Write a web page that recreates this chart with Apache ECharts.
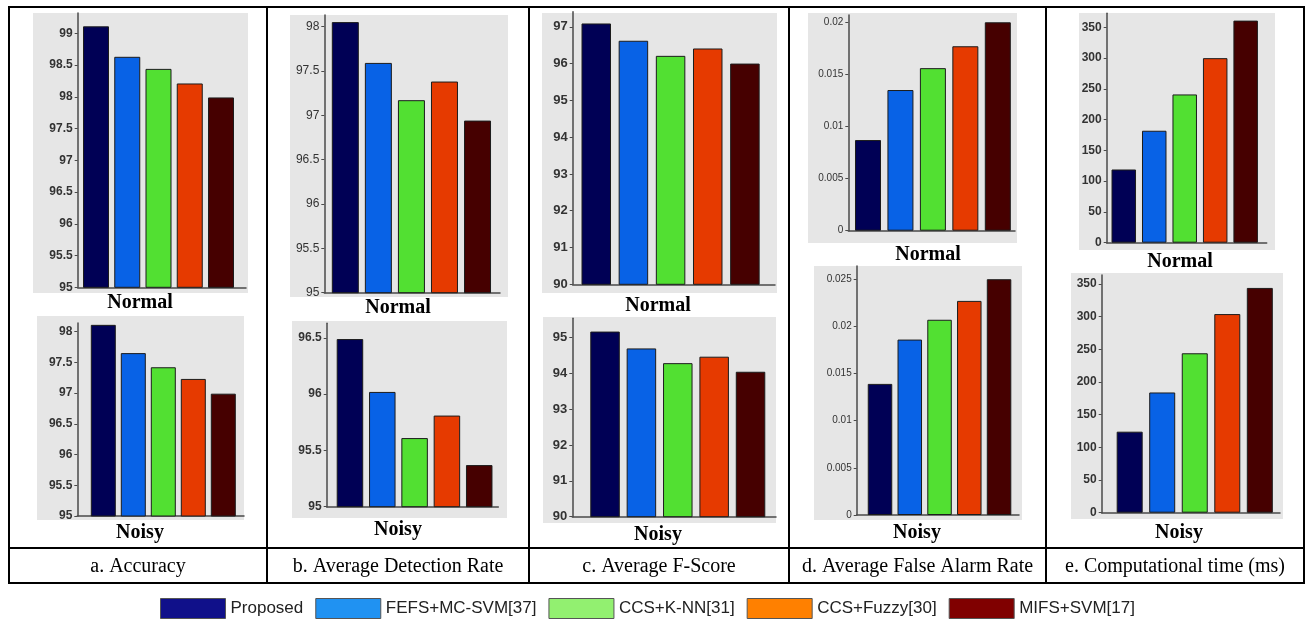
<!DOCTYPE html>
<html><head><meta charset="utf-8">
<script src="https://cdn.jsdelivr.net/npm/echarts@6/dist/echarts.min.js"></script>
<style>html,body{margin:0;padding:0;background:#fff}#c{width:1307px;height:622px}</style>
</head><body><div id="c"></div>
<script>
// ---------- data ----------
const methods = ['Proposed', 'FEFS+MC-SVM[37]', 'CCS+K-NN[31]', 'CCS+Fuzzy[30]', 'MIFS+SVM[17]'];
const captions = ['a. Accuracy', 'b. Average Detection Rate', 'c. Average F-Score', 'd. Average False Alarm Rate', 'e. Computational time (ms)'];
const conditions = ['Normal', 'Noisy'];

const accuracyNormal  = [99.11, 98.63, 98.44, 98.21, 97.99];
const accuracyNoisy   = [98.11, 97.65, 97.42, 97.23, 96.99];
const detectionNormal = [98.05, 97.59, 97.17, 97.38, 96.94];
const detectionNoisy  = [96.49, 96.02, 95.61, 95.81, 95.37];
const fscoreNormal    = [97.09, 96.62, 96.21, 96.41, 96.00];
const fscoreNoisy     = [95.16, 94.69, 94.28, 94.46, 94.04];
const falseAlarmNormal = [0.0087, 0.0135, 0.0156, 0.0177, 0.0200];
const falseAlarmNoisy  = [0.0139, 0.0186, 0.0207, 0.0227, 0.0250];
const timeNormal = [119, 182, 241, 300, 361];
const timeNoisy  = [124, 184, 244, 304, 344];

const ticksAccuracyNormal  = [95, 95.5, 96, 96.5, 97, 97.5, 98, 98.5, 99];
const ticksAccuracyNoisy   = [95, 95.5, 96, 96.5, 97, 97.5, 98];
const ticksDetectionNormal = [95, 95.5, 96, 96.5, 97, 97.5, 98];
const ticksDetectionNoisy  = [95, 95.5, 96, 96.5];
const ticksFscoreNormal    = [90, 91, 92, 93, 94, 95, 96, 97];
const ticksFscoreNoisy     = [90, 91, 92, 93, 94, 95];
const ticksFalseAlarmNormal = [0, 0.005, 0.01, 0.015, 0.02];
const ticksFalseAlarmNoisy  = [0, 0.005, 0.01, 0.015, 0.02, 0.025];
const ticksTimeNormal = [0, 50, 100, 150, 200, 250, 300, 350];
const ticksTimeNoisy  = [0, 50, 100, 150, 200, 250, 300, 350];

// ---------- styles ----------
const barColors = ['#000055', '#0862e6', '#52e032', '#e63a00', '#460000'];
const legendColors = ['#10108a', '#2092f2', '#92f070', '#ff8000', '#800000'];

const panels = [
  {values: accuracyNormal,   ticks: ticksAccuracyNormal,   col: 0, cond: 0},
  {values: accuracyNoisy,    ticks: ticksAccuracyNoisy,    col: 0, cond: 1},
  {values: detectionNormal,  ticks: ticksDetectionNormal,  col: 1, cond: 0},
  {values: detectionNoisy,   ticks: ticksDetectionNoisy,   col: 1, cond: 1},
  {values: fscoreNormal,     ticks: ticksFscoreNormal,     col: 2, cond: 0},
  {values: fscoreNoisy,      ticks: ticksFscoreNoisy,      col: 2, cond: 1},
  {values: falseAlarmNormal, ticks: ticksFalseAlarmNormal, col: 3, cond: 0},
  {values: falseAlarmNoisy,  ticks: ticksFalseAlarmNoisy,  col: 3, cond: 1},
  {values: timeNormal,       ticks: ticksTimeNormal,       col: 4, cond: 0},
  {values: timeNoisy,        ticks: ticksTimeNoisy,        col: 4, cond: 1}
];

// layout: grid box [left, top, right, bottom], x range, y range, bar width, background box, subtitle centre, label font
const layout = [
  {g:[77.7, 13, 246, 287.3],   x:[0.414, 5.8],  y:[95, 99.32],  bw:26,   bg:[33, 13, 248, 293],    sub:[140, 303], fs:12, fw:'bold'},
  {g:[77.3, 323, 244, 516],    x:[0.133, 5.69], y:[95, 98.14],  bw:25,   bg:[37, 316, 244, 520],   sub:[140, 533], fs:12, fw:'bold'},
  {g:[324.3, 15, 500, 292.7],  x:[0.364, 5.68], y:[95, 98.13],  bw:27,   bg:[290, 15, 508, 297],   sub:[398, 308], fs:12, fw:'normal'},
  {g:[326.7, 323.3, 498.3, 506.7], x:[0.28, 5.59], y:[95, 96.63], bw:26.5, bg:[292, 321, 507, 518], sub:[398, 530], fs:12, fw:'bold'},
  {g:[572.7, 11.7, 775, 284.3], x:[0.366, 5.81], y:[90, 97.41], bw:29.5, bg:[542, 13, 777, 293],   sub:[658, 306], fs:13, fw:'bold'},
  {g:[572.3, 318.3, 776, 516.7], x:[0.1, 5.7],   y:[90, 95.53], bw:29.5, bg:[543, 317, 776, 523],  sub:[658, 535], fs:13, fw:'bold'},
  {g:[848.3, 15, 1015, 230.7], x:[0.393, 5.53], y:[0, 0.0207],  bw:26,   bg:[808, 13, 1017, 243],  sub:[928, 255], fs:10, fw:'normal'},
  {g:[856.7, 266, 1019, 515],  x:[0.217, 5.67], y:[0, 0.0264],  bw:24.5, bg:[814, 266, 1022, 520], sub:[917, 533], fs:10, fw:'normal'},
  {g:[1106.7, 13.3, 1266.7, 242.7], x:[0.44, 5.69], y:[0, 372.9], bw:24.5, bg:[1079, 13, 1275, 250], sub:[1180, 262], fs:12, fw:'bold'},
  {g:[1101.7, 275, 1280, 512.7], x:[0.14, 5.62], y:[0, 363.8],  bw:26,   bg:[1071, 273, 1283, 519], sub:[1179, 533], fs:12, fw:'bold'}
];

const table = {left: 9, right: 1304, top: 7, bottom: 583, row: 548, cols: [267, 529, 789, 1046]};

// ---------- build ----------
const grid = [], xAxis = [], yAxis = [], series = [], graphic = [];
const axisColor = '#4a4a4a';
panels.forEach((p, k) => {
  const L = layout[k];
  grid.push({left: L.g[0], top: L.g[1], width: L.g[2] - L.g[0], height: L.g[3] - L.g[1], containLabel: false});
  xAxis.push({type: 'value', gridIndex: k, min: L.x[0], max: L.x[1],
    axisLine: {show: true, onZero: false, lineStyle: {color: axisColor, width: 1.5}},
    axisTick: {show: false}, axisLabel: {show: false}, splitLine: {show: false}});
  yAxis.push({type: 'value', gridIndex: k, min: L.y[0], max: L.y[1],
    axisLine: {show: true, lineStyle: {color: axisColor, width: 1.5}},
    axisTick: {show: true, length: 3, customValues: p.ticks, lineStyle: {color: axisColor}},
    axisLabel: {customValues: p.ticks, margin: 5, color: '#333', fontSize: L.fs, fontWeight: L.fw,
      fontFamily: 'Liberation Sans, Arial, sans-serif'},
    splitLine: {show: false}});
  methods.forEach((m, i) => {
    series.push({type: 'bar', name: m, xAxisIndex: k, yAxisIndex: k,
      barWidth: L.bw, barGap: '-100%',
      itemStyle: {color: barColors[i], borderColor: '#1c1c1c', borderWidth: 1},
      data: [[i + 1, p.values[i]]]});
  });
  graphic.push({type: 'rect', z: -10, silent: true,
    shape: {x: L.bg[0], y: L.bg[1], width: L.bg[2] - L.bg[0], height: L.bg[3] - L.bg[1]},
    style: {fill: '#e6e6e6'}});
  graphic.push({type: 'text', x: L.sub[0], y: L.sub[1], silent: true,
    style: {text: conditions[p.cond], fill: '#000', font: 'bold 20px "Liberation Serif", "Times New Roman", serif',
      textAlign: 'center', textVerticalAlign: 'middle'}});
});

// table lines
const lw = 2;
graphic.push({type: 'rect', silent: true, shape: {x: table.left, y: table.top, width: table.right - table.left, height: table.bottom - table.top},
  style: {fill: 'none', stroke: '#000', lineWidth: lw}});
graphic.push({type: 'line', silent: true, shape: {x1: table.left, y1: table.row, x2: table.right, y2: table.row}, style: {stroke: '#000', lineWidth: lw}});
table.cols.forEach(x => graphic.push({type: 'line', silent: true, shape: {x1: x, y1: table.top, x2: x, y2: table.bottom}, style: {stroke: '#000', lineWidth: lw}}));
const colEdges = [table.left].concat(table.cols, [table.right]);
captions.forEach((c, i) => {
  graphic.push({type: 'text', silent: true, x: (colEdges[i] + colEdges[i + 1]) / 2, y: (table.row + table.bottom) / 2 + 1,
    style: {text: c, fill: '#000', font: '20px "Liberation Serif", "Times New Roman", serif', textAlign: 'center', textVerticalAlign: 'middle'}});
});

const chart = echarts.init(document.getElementById('c'), null, {renderer: 'canvas'});
chart.setOption({
  animation: false,
  backgroundColor: '#fff',
  grid, xAxis, yAxis, series, graphic,
  legend: {
    left: 155, top: 593, icon: 'rect', itemWidth: 65, itemHeight: 20, itemGap: 12,
    textStyle: {fontFamily: 'Liberation Sans, Arial, sans-serif', fontSize: 17, color: '#222'},
    data: methods.map((m, i) => ({name: m, itemStyle: {color: legendColors[i], borderColor: '#555', borderWidth: 1}}))
  }
});
</script></body></html>
